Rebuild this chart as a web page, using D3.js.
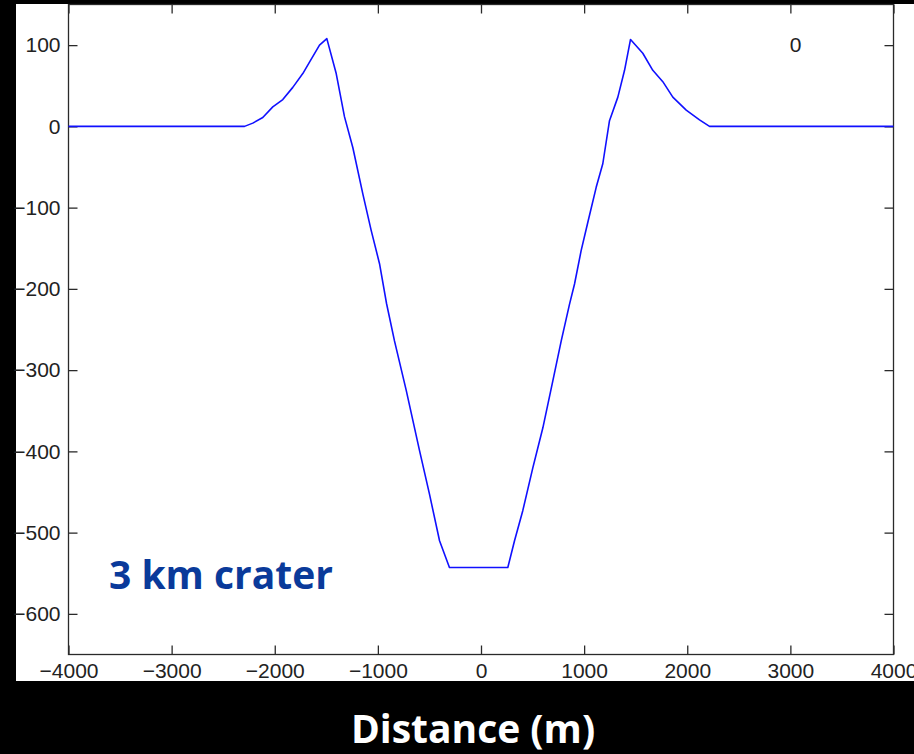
<!DOCTYPE html>
<html>
<head>
<meta charset="utf-8">
<script src="https://cdn.jsdelivr.net/npm/d3@7"></script>
<style>
  html, body { margin: 0; padding: 0; background: #000; }
  svg { display: block; }
</style>
</head>
<body>
<div id="chart"></div>
<script>
(function () {
    'use strict';

    // ── data ─────────────────────────────────────────────────────────────────
    const distance = [-4000, -2293, -2213, -2116, -2019, -1922, -1825, -1728, -1663, -1566,
        -1495, -1404, -1324, -1243, -1146, -1065, -984, -916, -839, -725, -596, -499, -402, -306,
        260, 325, 405, 503, 600, 697, 778, 858, 907, 971, 1036, 1117, 1181, 1246, 1327, 1392,
        1450, 1569, 1666, 1763, 1860, 1990, 2119, 2216, 4000];
    const elevation = [0, 0, 4, 11, 24, 33, 48, 65, 79, 100,
        108, 65, 12, -26, -83, -128, -169, -218, -264, -325, -399, -453, -510, -543,
        -543, -510, -473, -420, -371, -313, -264, -219, -194, -153, -118, -75, -46, 7, 36, 69,
        107, 90, 69, 55, 36, 20, 8, 0, 0];
    const xTicks = [-4000, -3000, -2000, -1000, 0, 1000, 2000, 3000, 4000];
    const yTicks = [100, 0, -100, -200, -300, -400, -500, -600];
    const xDomain = [-4000, 4000];
    const yDomain = [-650, 150];
    const cornerNote = '0';
    const craterLabel = '3 km crater';
    const xTitle = 'Distance (m)';

    const W = 914, H = 754;
    const plot = { left: 68.5, right: 893.5, top: 4.5, bottom: 654.5 };

    const svg = d3.select('#chart').append('svg')
        .attr('width', W).attr('height', H);

    svg.append('rect').attr('width', W).attr('height', H).attr('fill', '#000');
    // white figure panel
    svg.append('rect')
        .attr('x', 16).attr('y', 4)
        .attr('width', W - 16).attr('height', 677)
        .attr('fill', '#fff');

    const x = d3.scaleLinear().domain(xDomain).range([plot.left, plot.right]);
    const y = d3.scaleLinear().domain(yDomain).range([plot.bottom, plot.top]);

    const tickFont = '"Liberation Sans", Arial, sans-serif';
    const tickSize = '21px';
    const axisColor = '#2a2a2a';
    const fmt = d3.format('d');

    // ── axes (MATLAB style: ticks inward on all four sides) ──────────────────
    function styleAxis(g) {
        g.select('.domain').remove();
        g.selectAll('line').attr('stroke', axisColor).attr('stroke-width', 1.3);
        g.selectAll('text')
            .attr('fill', '#222')
            .style('font-family', tickFont)
            .style('font-size', tickSize);
    }

    svg.append('g')
        .attr('transform', `translate(0,${plot.bottom})`)
        .call(d3.axisBottom(x).tickValues(xTicks).tickSizeInner(-9).tickSizeOuter(0)
            .tickPadding(9).tickFormat(fmt))
        .call(styleAxis);
    svg.append('g')
        .attr('transform', `translate(0,${plot.top})`)
        .call(d3.axisTop(x).tickValues(xTicks).tickSizeInner(-9).tickSizeOuter(0).tickFormat(''))
        .call(styleAxis);
    svg.append('g')
        .attr('transform', `translate(${plot.left},0)`)
        .call(d3.axisLeft(y).tickValues(yTicks).tickSizeInner(-9).tickSizeOuter(0)
            .tickPadding(8).tickFormat(fmt))
        .call(styleAxis);
    svg.append('g')
        .attr('transform', `translate(${plot.right},0)`)
        .call(d3.axisRight(y).tickValues(yTicks).tickSizeInner(-9).tickSizeOuter(0).tickFormat(''))
        .call(styleAxis);

    // frame
    svg.append('rect')
        .attr('x', plot.left).attr('y', plot.top)
        .attr('width', plot.right - plot.left).attr('height', plot.bottom - plot.top)
        .attr('fill', 'none')
        .attr('stroke', axisColor)
        .attr('stroke-width', 1.3);

    // ── profile line ─────────────────────────────────────────────────────────
    const line = d3.line()
        .x((d, i) => x(distance[i]))
        .y(d => y(d));

    svg.append('path')
        .datum(elevation)
        .attr('d', line)
        .attr('fill', 'none')
        .attr('stroke', '#1010ff')
        .attr('stroke-width', 1.6)
        .attr('stroke-linejoin', 'round');

    // stray "0" label near top right
    svg.append('text')
        .attr('x', x(3050)).attr('y', y(100))
        .attr('dy', '0.35em')
        .attr('text-anchor', 'middle')
        .attr('fill', '#222')
        .style('font-family', tickFont)
        .style('font-size', tickSize)
        .text(cornerNote);

    // ── annotations ──────────────────────────────────────────────────────────
    svg.append('text')
        .attr('x', 109).attr('y', 589)
        .attr('fill', '#0a3a9a')
        .style('font-family', '"Open Sans", "Noto Sans", sans-serif')
        .style('font-weight', 700)
        .style('font-size', '39px')
        .text(craterLabel);

    svg.append('text')
        .attr('x', 473).attr('y', 743)
        .attr('text-anchor', 'middle')
        .attr('fill', '#fff')
        .style('font-family', '"Open Sans", "Noto Sans", sans-serif')
        .style('font-weight', 700)
        .style('font-size', '39px')
        .text(xTitle);
})();
</script>
</body>
</html>
